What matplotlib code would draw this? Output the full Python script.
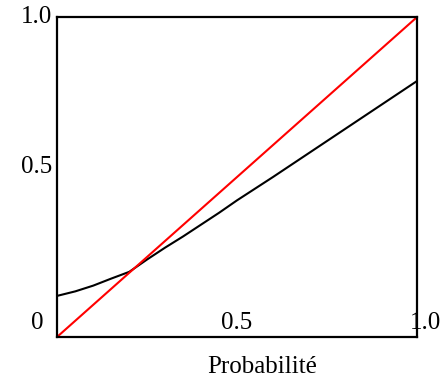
import matplotlib
matplotlib.use('Agg')
import matplotlib.pyplot as plt

# probability values (x) and transformed probability (y)
proba = [0.0, 0.05, 0.1, 0.15, 0.2, 0.25, 0.3, 0.35, 0.4, 0.45, 0.5,
         0.6, 0.7, 0.8, 0.9, 1.0]
courbe = [0.128, 0.142, 0.160, 0.182, 0.203, 0.242, 0.279, 0.314, 0.351,
          0.388, 0.427, 0.500, 0.575, 0.650, 0.725, 0.800]
diagonale_x = [0.0, 1.0]
diagonale_y = [0.0, 1.0]

plt.rcParams['font.family'] = ['Liberation Serif', 'DejaVu Serif']

fig = plt.figure(figsize=(4.48, 3.81), dpi=100)
ax = fig.add_axes([0.128, 0.1163, 0.802, 0.838])

ax.plot(proba, courbe, color='black', lw=1.5)
ax.plot(diagonale_x, diagonale_y, color='red', lw=1.5)

ax.set_xlim(0, 1)
ax.set_ylim(0, 1)
ax.set_xticks([])
ax.set_yticks([])
for s in ax.spines.values():
    s.set_linewidth(1.6)

fs = 18
# frame labels placed like the original figure
ax.text(-0.056, 0.043, '0', ha='center', va='center', fontsize=fs, clip_on=False)
ax.text(0.5, 0.043, '0.5', ha='center', va='center', fontsize=fs)
ax.text(1.026, 0.043, '1.0', ha='center', va='center', fontsize=fs, clip_on=False)
ax.text(-0.015, 1.0, '1.0', ha='right', va='center', fontsize=fs, clip_on=False)
ax.text(-0.015, 0.532, '0.5', ha='right', va='center', fontsize=fs, clip_on=False)
ax.text(0.57, -0.095, 'Probabilité', ha='center', va='center', fontsize=fs, clip_on=False)

fig.savefig('out.png', dpi=100)
